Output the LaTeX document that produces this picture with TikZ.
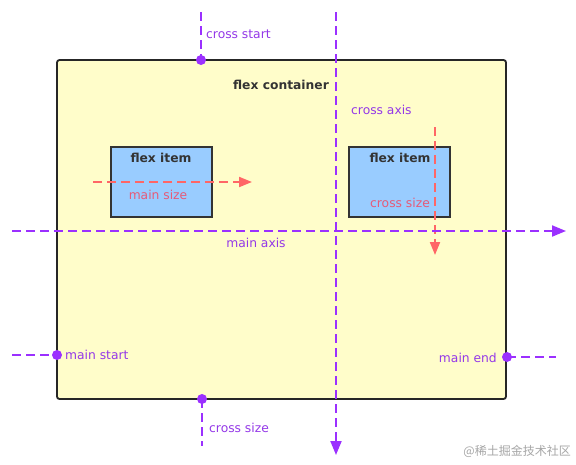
\documentclass[tikz,border=0pt]{standalone}
\usepackage{fontspec}
\setmainfont{DejaVu Sans}
\newfontfamily\cjk{Noto Sans CJK SC}
\usetikzlibrary{arrows.meta}
\definecolor{axisviolet}{HTML}{9B30FF}
\definecolor{labelviolet}{HTML}{9438E8}
\definecolor{sizered}{HTML}{FF6666}
\definecolor{sizetext}{HTML}{E65A78}
\definecolor{boxyellow}{HTML}{FFFDCA}
\definecolor{itemblue}{HTML}{99CCFF}
\tikzset{
	axis/.style={draw=axisviolet, line width=2pt, dash pattern=on 9pt off 5pt},
	sizeline/.style={draw=sizered, line width=2pt, dash pattern=on 9pt off 5pt},
	axistip/.style={-{Triangle[length=14pt,width=11pt]}},
	axislabel/.style={text=labelviolet, font=\fontsize{12.3}{14}\selectfont, inner sep=0pt},
	sizelabel/.style={text=sizetext, font=\fontsize{12.3}{14}\selectfont, inner sep=0pt},
	boldlabel/.style={text=black!80, font=\bfseries\fontsize{12.3}{14}\selectfont, inner sep=0pt},
	itembox/.style={draw=black!80, line width=1.8pt, fill=itemblue, minimum width=101pt, minimum height=70pt, inner sep=0pt},
	dot/.style={fill=axisviolet}
}
\begin{document}
\begin{tikzpicture}[x=1pt,y=-1pt]
		%%%%% START %%%%%
		\useasboundingbox[fill=white] (0,0) rectangle (576,464);
		
		\node[draw=black!85, line width=1.8pt, fill=boxyellow, rounded corners=2.5pt, minimum width=449pt, minimum height=339pt, inner sep=0pt] (container) at (281.5,229.5) {};
		\node[boldlabel] (containertitle) at (281,85) {flex container};
		
		\node[itembox] (itemleft) at (161.5,182) {};
		\node[itembox] (itemright) at (399.5,182) {};
		\node[boldlabel] (titleleft) at (161,158) {flex item};
		\node[boldlabel] (titleright) at (400,158) {flex item};
		\node[sizelabel] (mainsize) at (158,195) {main size};
		\node[sizelabel] (crosssize) at (400,203) {cross size};
		
		% main size / cross size
		\coordinate (msfrom) at (93,182);
		\coordinate (msto) at (252,182);
		\draw[sizeline, -{Triangle[length=13pt,width=10pt]}] (msfrom) -- (msto);
		\coordinate (csfrom) at (435,127);
		\coordinate (csto) at (435,255);
		\draw[sizeline, -{Triangle[length=13pt,width=10pt]}] (csfrom) -- (csto);
		
		% axes
		\coordinate (mainfrom) at (12,231);
		\coordinate (mainto) at (566,231);
		\draw[axis, axistip] (mainfrom) -- (mainto);
		\node[axislabel] (mainaxis) at (256,243) {main axis};
		\coordinate (crossfrom) at (336,12);
		\coordinate (crossto) at (336,455);
		\draw[axis, axistip] (crossfrom) -- (crossto);
		\node[axislabel, anchor=west] (crossaxis) at (351,110) {cross axis};
		
		% start and end points
		\coordinate (crossstart) at (201,60);
		\draw[axis] (201,12) -- (crossstart);
		\fill[dot] (crossstart) circle (5);
		\node[axislabel, anchor=west] at (206,34) {cross start};
		
		\coordinate (crossend) at (202,399);
		\draw[axis] (crossend) -- (202,446);
		\fill[dot] (crossend) circle (5);
		\node[axislabel, anchor=west] at (209,428) {cross size};
		
		\coordinate (mainstart) at (57,355);
		\draw[axis] (12,355) -- (mainstart);
		\fill[dot] (mainstart) circle (5);
		\node[axislabel, anchor=west] at (65,355) {main start};
		
		\coordinate (mainend) at (507,357);
		\draw[axis] (mainend) -- (556,357);
		\fill[dot] (mainend) circle (5);
		\node[axislabel, anchor=east] at (497,358) {main end};
		
		\node[text=black!35, font=\cjk\fontsize{12}{14}\selectfont, anchor=east, inner sep=0pt] (mark) at (571,451) {@稀土掘金技术社区};
		%%%%% END %%%%%
	\end{tikzpicture}
\end{document}
